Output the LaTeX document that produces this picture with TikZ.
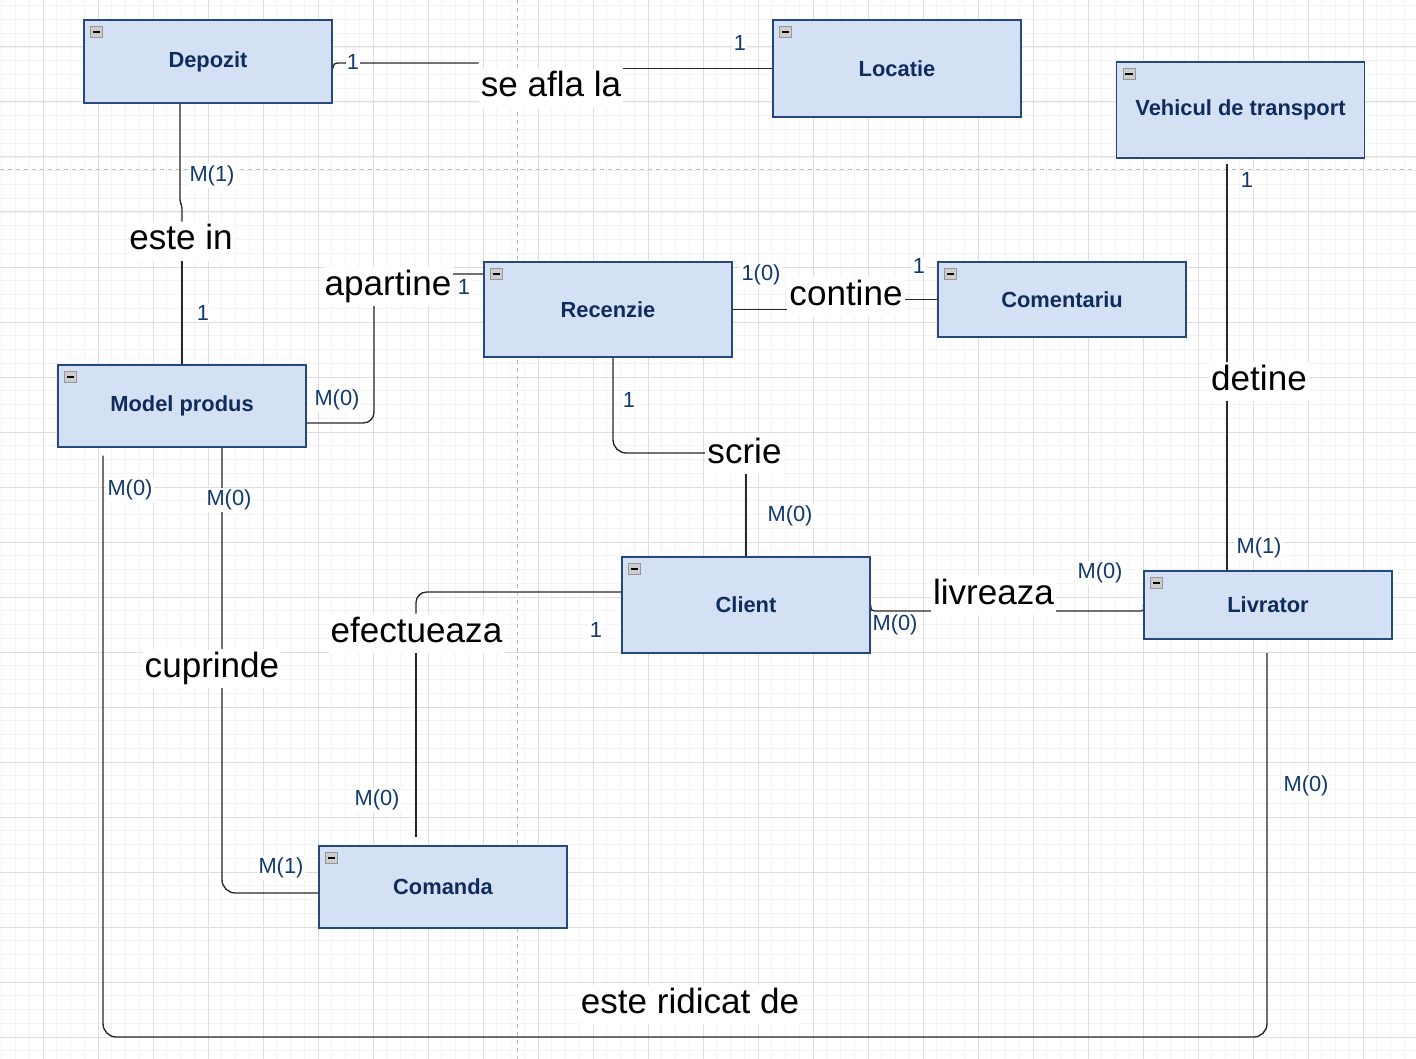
\documentclass[tikz,border=0pt]{standalone}
\usepackage{fontspec}
\setmainfont{Liberation Sans}
\usetikzlibrary{calc}

\definecolor{boxfill}{RGB}{212,225,245}
\definecolor{boxline}{RGB}{38,73,125}
\definecolor{boxtext}{RGB}{16,44,92}
\definecolor{cardtext}{RGB}{16,58,112}
\definecolor{linegray}{RGB}{40,40,40}
\definecolor{minorcol}{RGB}{243,243,243}
\definecolor{majorcol}{RGB}{222,222,222}
\definecolor{breakcol}{RGB}{190,190,190}

\pgfdeclarelayer{grid}
\pgfdeclarelayer{edges}
\pgfsetlayers{grid,edges,main}

\tikzset{
  entity/.style={draw=boxline, fill=boxfill, line width=1pt, minimum width=186pt, inner sep=0pt, text=boxtext, font=\fontsize{16.4}{19}\selectfont\bfseries},
  icon/.style={draw={rgb,255:red,150;green,150;blue,150}, fill={rgb,255:red,205;green,205;blue,205}, minimum width=9pt, minimum height=8.25pt, inner sep=0pt},
  minus/.style={line width=1.1pt, black},
  rel/.style={fill=white, inner sep=1.5pt, text height=19.5pt, text depth=6.6pt, anchor=base, font=\fontsize{26.3}{30}\selectfont},
  card/.style={fill=white, inner sep=1pt, text=cardtext, font=\fontsize{16.4}{19}\selectfont},
  conn/.style={draw=linegray, line width=1pt},
  minorgrid/.style={draw=minorcol, line width=0.6pt},
  majorgrid/.style={draw=majorcol, line width=0.75pt},
  pagebreak/.style={draw=breakcol, line width=0.75pt, dash pattern=on 3pt off 3pt}
}

\begin{document}
\begin{tikzpicture}[x=0.75pt,y=0.75pt,yscale=-1,xscale=1]
\useasboundingbox (0,0) rectangle (1416,1059);

% grid and page breaks
\begin{pgfonlayer}{grid}
\fill[white] (0,0) rectangle (1416,1059);
\foreach \i in {0,...,103} \draw[minorgrid] ({1.75+13.75*\i},0) -- ++(0,1059);
\foreach \j in {0,...,77} \draw[minorgrid] (0,{5.75+13.75*\j}) -- ++(1416,0);
\foreach \i in {0,...,25} \draw[majorgrid] ({43+55*\i},0) -- ++(0,1059);
\foreach \j in {0,...,18} \draw[majorgrid] (0,{47+55*\j}) -- ++(1416,0);
\draw[pagebreak] (517,0) -- (517,1059);
\draw[pagebreak] (0,170) -- (1416,170);
\end{pgfonlayer}

% entities
\node[entity, minimum height=62.25pt] (depozit) at (208,61.5) {Depozit};
\node[entity, minimum height=72.75pt] (locatie) at (897,68.5) {Locatie};
\node[entity, minimum height=72pt] (vehicul) at (1240.5,110) {Vehicul de transport};
\node[entity, minimum height=71.25pt] (recenzie) at (608,309.5) {Recenzie};
\node[entity, minimum height=56.25pt] (comentariu) at (1062,299.5) {Comentariu};
\node[entity, minimum height=61.5pt] (modelprodus) at (182,406) {Model produs};
\node[entity, minimum height=72pt] (client) at (746,605) {Client};
\node[entity, minimum height=51pt] (livrator) at (1268,605) {Livrator};
\node[entity, minimum height=61.5pt] (comanda) at (443,887) {Comanda};

\foreach \n in {depozit,locatie,vehicul,recenzie,comentariu,modelprodus,client,livrator,comanda}{
  \node[icon] (\n-ic) at ($(\n.north west)+(13,12.5)$) {};
  \draw[minus] ($(\n-ic.west)+(2.5,0)$) -- ($(\n-ic.east)+(-2.5,0)$);
}

% relationships
\node[rel] (afla) at (551,97) {se afla la};
\node[rel] (estein) at (181,250) {este in};
\node[rel] (apartine) at (388,295) {apartine};
\node[rel] (contine) at (846,305) {contine};
\node[rel] (scrie) at (744.5,463) {scrie};
\node[rel] (efectueaza) at (416.5,642) {efectueaza};
\node[rel] (livreaza) at (993.5,604) {livreaza};
\node[rel] (cuprinde) at (212,677) {cuprinde};
\node[rel] (detine) at (1259,390) {detine};
\node[rel] (ridicat) at (690,1013) {este ridicat de};

% cardinalities
\node[card] (c-dep-afla) at (353,62) {1};
\node[card] (c-loc-afla) at (740,43) {1};
\node[card] (c-dep-in) at (212,176) {M(1)};
\node[card] (c-mod-in) at (203,313) {1};
\node[card] (c-rec-apar) at (464,287) {1};
\node[card] (c-mod-apar) at (337,400) {M(0)};
\node[card] (c-rec-cont) at (761,275) {1(0)};
\node[card] (c-com-cont) at (919,266) {1};
\node[card] (c-rec-scrie) at (629,400) {1};
\node[card] (c-cli-scrie) at (790,516) {M(0)};
\node[card] (c-cli-efec) at (596,630) {1};
\node[card] (c-cmd-efec) at (377,800) {M(0)};
\node[card] (c-mod-cupr) at (229,500) {M(0)};
\node[card] (c-cmd-cupr) at (281,868) {M(1)};
\node[card] (c-cli-livr) at (895,625) {M(0)};
\node[card] (c-liv-livr) at (1100,573) {M(0)};
\node[card] (c-veh-det) at (1247,180) {1};
\node[card] (c-liv-det) at (1259,548) {M(1)};
\node[card] (c-mod-rid) at (130,490) {M(0)};
\node[card] (c-liv-rid) at (1306,786) {M(0)};

% connectors
\begin{pgfonlayer}{edges}
\draw[conn] (depozit.east |- 0,69) .. controls (334,63) .. (342,63) -- (afla.west |- 0,63);
\draw[conn] (afla.east |- locatie.west) -- (locatie.west);
\draw[conn, rounded corners=2] (depozit.south -| 180,0) -- (180,202) -- (182,206) -- (estein.north -| 182,0);
\draw[conn] (estein.south -| 182,0) -- (modelprodus.north -| 182,0);
\draw[conn, rounded corners=8] (recenzie.west |- 0,274) -- (374,274) -- (374,423) -- (modelprodus.east |- 0,423);
\draw[conn] (recenzie.east) -- (contine.west |- recenzie.east);
\draw[conn] (contine.east |- comentariu.west) -- (comentariu.west);
\draw[conn, rounded corners=10] (recenzie.south -| 613,0) -- (613,453) -- (scrie.west |- 0,453);
\draw[conn] (scrie.south -| client.north) -- (client.north);
\draw[conn, rounded corners=8] (client.west |- 0,592) -- (416,592) -- (efectueaza.north -| 416,0);
\draw[conn, shorten >=6pt] (efectueaza.south -| 416,0) -- (comanda.north -| 416,0);
\draw[conn, rounded corners=10] (modelprodus.south -| 222,0) -- (222,893) -- (comanda.west |- 0,893);
\draw[conn] (client.east) .. controls (871,611) .. (879,611) -- (livreaza.west |- 0,611);
\draw[conn] (livreaza.east |- 0,611) -- (1138,611) .. controls (1144,611) .. (livrator.west);
\draw[conn, shorten <=3.75pt] (vehicul.south -| 1227,0) -- (detine.north -| 1227,0);
\draw[conn] (detine.south -| 1227,0) -- (livrator.north -| 1227,0);
\draw[conn, rounded corners=10, shorten <=6pt, shorten >=10pt] (modelprodus.south -| 103,0) -- (103,1037) -- (1267,1037) -- (livrator.south -| 1267,0);
\end{pgfonlayer}

\end{tikzpicture}
\end{document}
